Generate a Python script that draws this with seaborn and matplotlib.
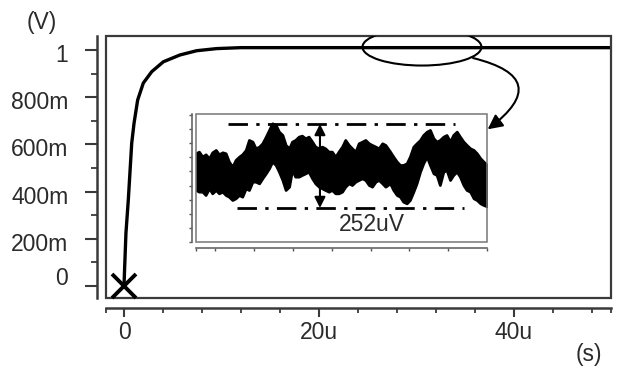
import numpy as np
import pandas as pd
import matplotlib
matplotlib.use("Agg")
import matplotlib.pyplot as plt
import matplotlib.transforms as mtrans
from matplotlib.patches import Rectangle, Ellipse
import seaborn as sns

# step response, time in us, voltage in V
t_main = [0, 0.05, 0.2, 0.44, 0.79, 1.03, 1.4, 1.98, 2.84, 4.03, 5.74, 7.45, 9.5, 12, 20, 30, 40, 50]
v_main = [0, 0.06, 0.225, 0.364, 0.605, 0.69, 0.788, 0.86, 0.908, 0.95, 0.979, 0.997, 1.006, 1.01,
          1.01, 1.01, 1.01, 1.01]

y_ticks = [0, 0.2, 0.4, 0.6, 0.8, 1.0]
y_labels = ["0", "200m", "400m", "600m", "800m", "1"]
x_ticks = [0, 20, 40]
x_labels = ["0", "20u", "40u"]

# zoomed ripple (inset), sample position 0..100, envelope in uV
t_zoom = [0, 1.0, 2.2, 3.3, 4.5, 5.6, 6.8, 7.9, 9.1, 10.2, 11.3, 12.5, 13.6, 14.8, 15.9, 17.1,
          18.2, 19.4, 20.5, 21.7, 22.8, 24.0, 25.1, 26.2, 27.4, 28.5, 29.7, 30.8, 32.0,
          33.0, 34.1, 35.3, 36.4, 37.6, 38.7, 39.9, 41.0, 42.2, 43.3, 44.4, 45.6, 46.7, 47.9,
          49.0, 50.2, 51.3, 52.5, 53.6, 54.8, 55.9, 57.1, 58.2, 59.4, 60.5, 61.7, 62.8, 64.0,
          65.1, 66.7, 67.8, 69.0, 70.1, 71.2, 72.4, 73.5, 74.7, 75.8, 77.0, 78.1, 79.3, 80.4,
          81.6, 82.7, 83.8, 85.0, 86.1, 87.3, 88.4, 89.6, 90.7, 91.9, 93.0, 94.2, 95.4, 96.5,
          97.7, 98.8, 100]
ripple_hi = [164, 169, 154, 161, 149, 167, 174, 161, 167, 164, 139, 124, 144, 154, 161, 174,
             204, 199, 179, 184, 194, 214, 234, 254, 249, 229, 219, 189, 179,
             199, 204, 214, 217, 209, 214, 199, 184, 179, 184, 179, 169, 169, 154,
             169, 184, 204, 189, 179, 169, 194, 199, 204, 194, 189, 184, 179, 194,
             189, 169, 154, 139, 129, 129, 134, 154, 184, 194, 204, 219, 229, 234,
             209, 199, 204, 214, 219, 199, 219, 229, 214, 199, 189, 179, 174, 164,
             149, 139, 129]
ripple_lo = [54, 49, 49, 39, 59, 44, 54, 44, 49, 39, 34, 24, 29, 39, 34, 59,
             54, 79, 79, 74, 89, 104, 119, 139, 129, 109, 84, 54, 64,
             114, 94, 94, 99, 104, 109, 89, 74, 64, 59, 54, 49, 54, 44,
             44, 49, 64, 74, 69, 79, 84, 89, 84, 69, 64, 79, 84, 74,
             64, 74, 54, 39, 34, 19, 14, 24, 49, 74, 109, 134, 154, 129,
             104, 99, 69, 109, 114, 84, 99, 109, 94, 69, 54, 49, 29, 24,
             14, 9, 5]
pp_top, pp_bot = 252, 0
pp_label = "252uV"

sns.set_theme(style="white")
plt.rcParams["font.family"] = ["Liberation Sans", "DejaVu Sans"]
txt = "#2b2b2b"
axc = "#3a3a3a"

fig = plt.figure(figsize=(6.21, 3.69), dpi=100)
ax = fig.add_axes([0.1707, 0.1924, 0.8132, 0.710])

df = pd.DataFrame({"t": t_main, "v": v_main})
sns.lineplot(data=df, x="t", y="v", ax=ax, color="black", lw=2.4)
ax.plot(0, 0, marker="x", ms=17, mew=2.8, color="black", clip_on=False, zorder=5)

ax.set_xlim(-1.846, 49.95)
ax.set_ylim(-0.0508, 1.0593)
ax.set_xlabel("")
ax.set_ylabel("")

for s in ["top", "right"]:
    ax.spines[s].set_visible(False)
ax.spines["left"].set_position(("outward", 6.5))
ax.spines["bottom"].set_position(("outward", 7.2))
for s in ["left", "bottom"]:
    ax.spines[s].set_color(axc)
    ax.spines[s].set_linewidth(1.8)
ax.add_patch(Rectangle((0, 0), 1, 1, transform=ax.transAxes, fill=False, lw=1.6,
                       ec=axc, clip_on=False, zorder=3))

ax.set_yticks(y_ticks)
ax.set_yticklabels(y_labels)
ax.set_yticks(np.arange(0.1, 1.0, 0.2), minor=True)
ax.set_xticks(x_ticks)
ax.set_xticklabels(x_labels)
ax.set_xticks([-1.846, 4, 8, 12, 16, 24, 28, 32, 36, 44, 48, 49.95], minor=True)
ax.tick_params(axis="y", which="major", direction="out", length=8.6, width=1.5, color=axc,
               pad=12, labelsize=16.5, labelcolor=txt, left=True)
ax.tick_params(axis="y", which="minor", direction="out", length=4.3, width=1.3, color=axc, left=True)
ax.tick_params(axis="x", which="major", direction="out", length=6.5, width=1.5, color=axc,
               pad=3, labelsize=16.5, labelcolor=txt, bottom=True)
ax.tick_params(axis="x", which="minor", direction="out", length=3.5, width=1.3, color=axc, bottom=True)

for lab in ax.get_yticklabels():
    dy = 10 if lab.get_text() == "0" else -3
    lab.set_transform(lab.get_transform() + mtrans.ScaledTranslation(0, dy / 100, fig.dpi_scale_trans))

fig.text(42 / 621, 1 - 22 / 369, "(V)", ha="center", va="center", fontsize=16.5, color=txt)
fig.text(589 / 621, 1 - 355 / 369, "(s)", ha="center", va="center", fontsize=16.5, color=txt)

# zoom ellipse and curved arrow
ax.add_patch(Ellipse((30.56, 1.0127), 12.2, 0.157, fill=False, lw=1.5, ec="black", zorder=4))
ax.annotate("", xy=(37.3, 0.664), xytext=(35.8, 0.966),
            arrowprops=dict(arrowstyle="-|>", connectionstyle="arc3,rad=-1.05", lw=1.5,
                            color="black", mutation_scale=22, shrinkA=0, shrinkB=0))

# inset
axin = fig.add_axes([0.3156, 0.3442, 0.4686, 0.3469])
axin.fill_between(t_zoom, ripple_lo, ripple_hi, color="black", lw=2.0, edgecolor="black")
axin.set_xlim(0, 100)
axin.set_ylim(-102, 282)
for s in ["top", "right"]:
    axin.spines[s].set_visible(False)
axin.spines["left"].set_position(("outward", 3))
axin.spines["bottom"].set_position(("outward", 4.3))
for s in ["left", "bottom"]:
    axin.spines[s].set_color("#666666")
    axin.spines[s].set_linewidth(1.2)
axin.add_patch(Rectangle((0, 0), 1, 1, transform=axin.transAxes, fill=False, lw=1.1,
                         ec="#777777", clip_on=False, zorder=3))
axin.set_yticks(np.linspace(-102, 279, 10))
axin.set_xticks([0, 6.7, 20, 33.3, 46.7, 60, 73.3, 86.7, 100])
axin.set_yticklabels([])
axin.set_xticklabels([])
axin.tick_params(axis="both", direction="out", length=2.5, width=1, color="#555555",
                 left=True, bottom=True)

dash = (0, (7, 3, 1.2, 3))
axin.hlines(pp_top, 11, 89, colors="black", lw=2, linestyles=[dash])
axin.hlines(pp_bot, 14, 92, colors="black", lw=2, linestyles=[dash])
axin.annotate("", xy=(42.6, pp_bot), xytext=(42.6, pp_top),
              arrowprops=dict(arrowstyle="<|-|>", color="black", lw=1.5, mutation_scale=16,
                              shrinkA=0, shrinkB=0))
axin.text(60.5, -51, pp_label, ha="center", va="center", fontsize=16.5, color=txt)

fig.savefig("out.png", dpi=100)
